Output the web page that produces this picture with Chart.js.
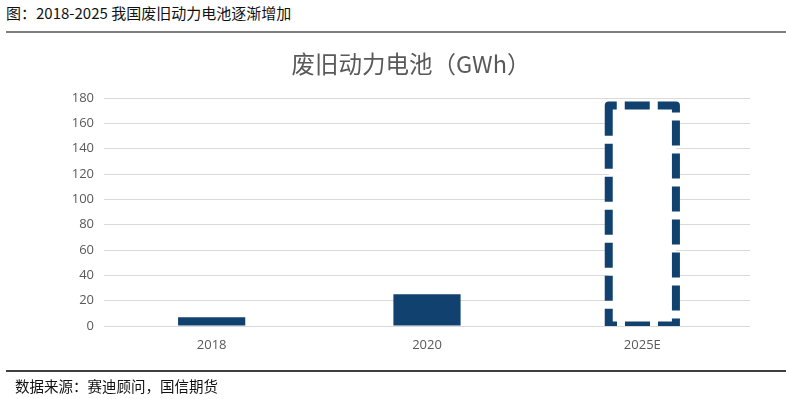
<!DOCTYPE html>
<html>
<head>
<meta charset="utf-8">
<script src="https://cdn.jsdelivr.net/npm/chart.js@4.4.1/dist/chart.umd.min.js"></script>
<style>
  html, body { margin: 0; padding: 0; background: #ffffff; }
  #wrap { position: relative; width: 786px; height: 399px; overflow: hidden; background: #fff; }
  #head { position: absolute; left: 6px; top: 3px; font: 15px "Noto Sans CJK SC", sans-serif; color: #111; white-space: nowrap; line-height: 20px; }
  #topline { position: absolute; left: 6px; top: 31px; width: 780px; height: 2px; background: #7f7f7f; }
  #botline { position: absolute; left: 6px; top: 370px; width: 780px; height: 2px; background: #404040; }
  #foot { position: absolute; left: 15px; top: 376px; font: 14.5px "Noto Sans CJK SC", sans-serif; color: #111; white-space: nowrap; line-height: 20px; }
  #ctitle { position: absolute; left: 211px; width: 400px; top: 49px; text-align: center; font: 23.5px "Noto Sans CJK SC", sans-serif; color: #595959; line-height: 28px; white-space: nowrap; }
  #cv { position: absolute; left: 0; top: 0; }
</style>
</head>
<body>
<div id="wrap">
  <div id="head">图：2018-2025 我国废旧动力电池逐渐增加</div>
  <div id="topline"></div>
  <canvas id="cv" width="786" height="399"></canvas>
  <div id="ctitle"></div>
  <div id="botline"></div>
  <div id="foot">数据来源：赛迪顾问，国信期货</div>
</div>
<script>
const categories = ['2018', '2020', '2025E'];
const actualValues = [7, 25, null];
const forecastValues = [null, null, 174];
const chartTitle = '废旧动力电池（GWh）';
const yMin = 0, yMax = 180, yStep = 20;

document.getElementById('ctitle').textContent = chartTitle;

const BAR = '#10416f';

const dashedBarPlugin = {
  id: 'dashedBar',
  afterDatasetsDraw(chart) {
    const meta = chart.getDatasetMeta(1);
    const ctx = chart.ctx;
    const area = chart.chartArea;
    ctx.save();
    ctx.beginPath();
    ctx.rect(area.left - 10, area.top - 10, area.right - area.left + 20, area.bottom - area.top + 10);
    ctx.clip();
    meta.data.forEach((el, i) => {
      if (forecastValues[i] == null) return;
      const p = el.getProps(['x', 'y', 'base', 'width'], true);
      const l = p.x - p.width / 2, r = p.x + p.width / 2;
      ctx.strokeStyle = BAR;
      ctx.lineWidth = 8;
      ctx.lineJoin = 'round';
      ctx.lineCap = 'butt';
      ctx.setLineDash([25, 8]);
      ctx.beginPath();
      ctx.moveTo(l, p.y + 17);
      ctx.lineTo(l, p.y);
      ctx.lineTo(r, p.y);
      ctx.lineTo(r, p.base);
      ctx.lineTo(l, p.base);
      ctx.closePath();
      ctx.stroke();
    });
    ctx.restore();
  }
};

new Chart(document.getElementById('cv'), {
  type: 'bar',
  data: {
    labels: categories,
    datasets: [
      { label: '废旧动力电池', data: actualValues, backgroundColor: BAR, borderWidth: 0 },
      { label: '预测', data: forecastValues, backgroundColor: 'rgba(255,255,255,1)', borderWidth: 0 }
    ]
  },
  options: {
    responsive: false,
    animation: false,
    devicePixelRatio: 1,
    layout: { padding: { left: 0, right: 36, top: 98, bottom: 0 } },
    datasets: { bar: { grouped: false, categoryPercentage: 1, barPercentage: 0.312 } },
    plugins: {
      legend: { display: false },
      tooltip: { enabled: false },
      title: { display: false }
    },
    scales: {
      x: {
        grid: { display: false, drawTicks: false },
        border: { display: false },
        ticks: { color: '#595959', padding: 11, font: { family: '"Open Sans", sans-serif', size: 13 } },
        afterFit(s) { s.height = 73; }
      },
      y: {
        min: yMin, max: yMax,
        grid: { color: '#d9d9d9', lineWidth: 1, drawTicks: false },
        border: { display: false },
        ticks: { stepSize: yStep, color: '#595959', padding: 10, font: { family: '"Open Sans", sans-serif', size: 13 } },
        afterFit(s) { s.width = 104; }
      }
    }
  },
  plugins: [dashedBarPlugin]
});
</script>
</body>
</html>
